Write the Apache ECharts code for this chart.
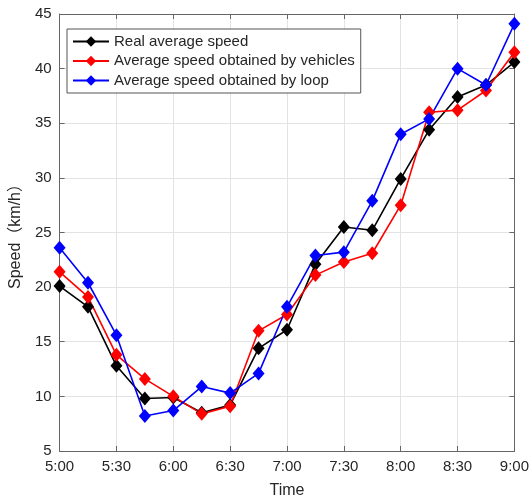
<!DOCTYPE html>
<html>
<head>
<meta charset="utf-8">
<script src="https://cdn.jsdelivr.net/npm/echarts@6/dist/echarts.min.js"></script>
<style>
  html, body { margin: 0; padding: 0; background: #fff; }
  #main { width: 532px; height: 504px; }
</style>
</head>
<body>
<div id="main"></div>
<script>
// time stamps, every 15 minutes
var times = ["5:00", "5:15", "5:30", "5:45", "6:00", "6:15", "6:30", "6:45", "7:00",
  "7:15", "7:30", "7:45", "8:00", "8:15", "8:30", "8:45", "9:00"];

var realSpeed = [20.1, 18.2, 12.8, 9.8, 9.9, 8.5, 9.2, 14.4, 16.1,
  22.1, 25.5, 25.2, 29.9, 34.4, 37.4, 38.5, 40.6];
var vehicleSpeed = [21.4, 19.1, 13.8, 11.6, 10.0, 8.4, 9.1, 16.0, 17.5,
  21.1, 22.3, 23.1, 27.5, 36.0, 36.2, 38.0, 41.5];
var loopSpeed = [23.6, 20.4, 15.6, 8.2, 8.7, 10.9, 10.3, 12.1, 18.2,
  22.9, 23.2, 27.9, 34.0, 35.4, 40.0, 38.5, 44.1];

var seriesNames = ["Real average speed", "Average speed obtained by vehicles", "Average speed obtained by loop"];
var seriesColors = ["#000000", "#ff0000", "#0000ff"];

var font = "Liberation Sans, Arial, Noto Sans CJK SC, sans-serif";
var axisColor = "#666666";
var textColor = "#262626";

var chart = echarts.init(document.getElementById("main"));

var values = [realSpeed, vehicleSpeed, loopSpeed];
var series = [];
for (var i = 0; i < values.length; i++) {
  series.push({
    name: seriesNames[i],
    type: "line",
    data: values[i],
    xAxisIndex: 0,
    yAxisIndex: 0,
    symbol: "diamond",
    symbolSize: [12, 14],
    showAllSymbol: true,
    color: seriesColors[i],
    lineStyle: { width: 1.6, color: seriesColors[i] },
    itemStyle: { color: seriesColors[i] },
    animation: false
  });
}

var option = {
  backgroundColor: "#fff",
  animation: false,
  textStyle: { fontFamily: font },
  grid: { left: 58, right: 16, top: 14, bottom: 52, containLabel: false },
  legend: {
    data: seriesNames,
    orient: "vertical",
    left: 67,
    top: 29,
    itemWidth: 36,
    itemHeight: 13,
    itemGap: 4.5,
    padding: [5, 6, 5, 5],
    borderColor: "#555",
    borderWidth: 1,
    backgroundColor: "#fff",
    textStyle: { fontSize: 15, color: textColor, fontFamily: font }
  },
  xAxis: [
    {
      type: "category",
      data: times,
      boundaryGap: false,
      name: "Time",
      nameLocation: "middle",
      nameGap: 32,
      nameTextStyle: { fontSize: 16, color: textColor, fontFamily: font },
      axisLine: { show: true, lineStyle: { color: axisColor, width: 1 } },
      axisTick: { show: true, inside: true, interval: 1, length: 5, lineStyle: { color: axisColor } },
      axisLabel: { interval: 1, fontSize: 15, color: textColor, margin: 8, fontFamily: font },
      splitLine: { show: true, interval: 1, lineStyle: { color: "#e3e3e3", width: 1 } }
    },
    {
      type: "category",
      data: times,
      boundaryGap: false,
      position: "top",
      axisLine: { show: true, lineStyle: { color: axisColor, width: 1 } },
      axisTick: { show: true, inside: true, interval: 1, length: 5, lineStyle: { color: axisColor } },
      axisLabel: { show: false },
      splitLine: { show: false }
    }
  ],
  yAxis: [
    {
      type: "value",
      min: 5,
      max: 45,
      interval: 5,
      name: "Speed（km/h）",
      nameLocation: "middle",
      nameGap: 32,
      nameTextStyle: { fontSize: 16, color: textColor, fontFamily: font },
      axisLine: { show: true, lineStyle: { color: axisColor, width: 1 } },
      axisTick: { show: true, inside: true, length: 5, lineStyle: { color: axisColor } },
      axisLabel: { fontSize: 15, color: textColor, margin: 8, fontFamily: font },
      splitLine: { show: true, lineStyle: { color: "#e3e3e3", width: 1 } }
    },
    {
      type: "value",
      min: 5,
      max: 45,
      interval: 5,
      position: "right",
      axisLine: { show: true, lineStyle: { color: axisColor, width: 1 } },
      axisTick: { show: true, inside: true, length: 5, lineStyle: { color: axisColor } },
      axisLabel: { show: false },
      splitLine: { show: false }
    }
  ],
  series: series
};

chart.setOption(option);
</script>
</body>
</html>
